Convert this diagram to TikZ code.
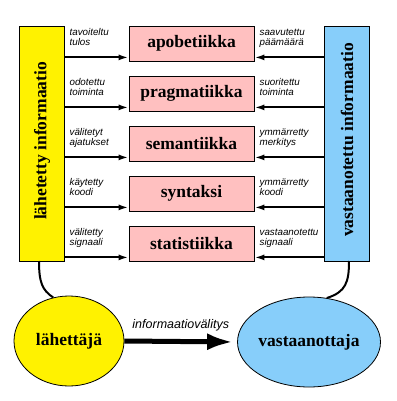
\documentclass[tikz,border=0pt]{standalone}
\usepackage{fontspec}
\setmainfont{Liberation Serif}
\newfontfamily\lsans{Liberation Sans}
\usetikzlibrary{shapes.geometric,arrows.meta}
\definecolor{pinkbox}{RGB}{255,192,192}
\definecolor{bluebox}{RGB}{135,206,250}
\tikzset{
  bigtxt/.style={font=\fontsize{17.5}{19}\selectfont\bfseries},
  layer/.style={draw=black,line width=0.8pt,fill=pinkbox,minimum width=125pt,minimum height=35pt,inner sep=0pt,bigtxt},
  side/.style={draw=black,line width=0.8pt,minimum width=45pt,minimum height=235pt,inner sep=0pt},
  party/.style={ellipse,draw=black,line width=0.8pt,minimum width=110pt,minimum height=90pt,inner sep=0pt,bigtxt},
  lab/.style={font=\lsans\itshape\fontsize{9.8}{10}\selectfont,align=left,anchor=north west,inner sep=0pt},
  arr/.style={line width=2pt,-{Latex[length=10pt,width=6pt]}},
  conn/.style={line width=2pt},
}
\begin{document}
\begin{tikzpicture}[x=1pt,y=-1pt]
\useasboundingbox (0,0) rectangle (396,401);
\node[side,fill=yellow] (snd) at (41.5,143.5) {};
\node[bigtxt,rotate=90] (sndt) at (42,141) {lähetetty informaatio};
\node[side,fill=bluebox] (rcv) at (346.5,143.5) {};
\node[bigtxt,rotate=90] (rcvt) at (347,140) {vastaanotettu informaatio};
\node[layer] (b1) at (191.5,43.5) {apobetiikka};
\node[layer] (b2) at (191.5,93.5) {pragmatiikka};
\node[layer] (b3) at (191.5,143.5) {semantiikka};
\node[layer] (b4) at (191.5,193.5) {syntaksi};
\node[layer] (b5) at (191.5,243.5) {statistiikka};
\foreach \b/\l/\r in {b1/{tavoiteltu\\tulos}/{saavutettu\\päämäärä},
                      b2/{odotettu\\toiminta}/{suoritettu\\toiminta},
                      b3/{välitetyt\\ajatukset}/{ymmärretty\\merkitys},
                      b4/{käytetty\\koodi}/{ymmärretty\\koodi},
                      b5/{välitetty\\signaali}/{vastaanotettu\\signaali}}{
  \draw[arr] ([yshift=4pt]\b.south -| snd.east) -- ([yshift=4pt]\b.south west);
  \draw[arr] ([yshift=4pt]\b.south -| rcv.west) -- ([yshift=4pt]\b.south east);
  \node[lab] (\b l) at ([xshift=5pt,yshift=-3pt]\b.north -| snd.east) {\l};
  \node[lab] (\b r) at ([xshift=5pt,yshift=-3pt]\b.north east) {\r};
}
\node[party,fill=yellow] (lah) at (69,341) {lähettäjä};
\node[party,fill=bluebox] (vas) at (309,342) {vastaanottaja};
\coordinate (sb) at (39,261);
\coordinate (rb) at (349,261);
\draw[conn] (sb) .. controls (39,282) and (42,290) .. (lah.110);
\draw[conn] (rb) .. controls (349,282) and (346,292) .. (vas.68);
\draw[line width=5pt,-{Latex[length=26pt,width=17pt]},shorten >=4pt] (lah.east) -- (vas.west)
  node[midway,above=5pt,font=\lsans\itshape\fontsize{12.5}{13}\selectfont] (iv) {informaatiovälitys};
\end{tikzpicture}
\end{document}
